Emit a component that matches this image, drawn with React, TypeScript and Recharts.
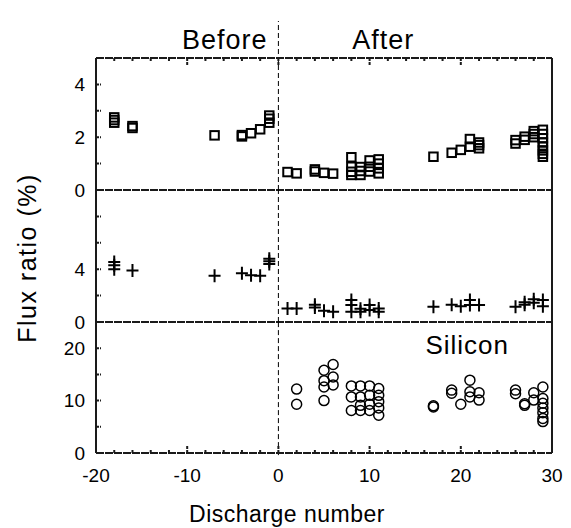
import React from "react";
import { ScatterChart, Scatter, XAxis, YAxis, ReferenceLine, ReferenceDot, Label } from "recharts";

const W = 571;
const H = 528;
const PLOT_LEFT = 96;
const PLOT_RIGHT = 552;
const FONT = '"Liberation Sans", Arial, Helvetica, sans-serif';
const INK = "#000";
const RULE = "#1a1a1a";
const RULE_DASH = "8 1";
const TICK_DASH = "3 1";

// shared x axis (discharge number)
const X_DOMAIN = [-20, 30];
const X_TICKS = [-20, -18, -16, -14, -12, -10, -8, -6, -4, -2, 0, 2, 4, 6, 8, 10, 12, 14, 16, 18, 20, 22, 24, 26, 28, 30];
const X_LABELS = [-20, -10, 0, 10, 20, 30];

// top panel: squares
const squares: [number, number][] = [
	[-18, 2.55], [-18, 2.65], [-18, 2.75], [-16, 2.35], [-16, 2.42],
	[-7, 2.07], [-4, 2.03], [-4, 2.08], [-3, 2.15], [-2, 2.3],
	[-1, 2.55], [-1, 2.7], [-1, 2.82],
	[1, 0.68], [2, 0.63], [4, 0.7], [4, 0.78], [5, 0.65], [6, 0.62],
	[8, 1.24], [8, 0.88], [8, 0.69], [8, 0.57],
	[9, 0.87], [9, 0.72], [9, 0.57],
	[10, 1.12], [10, 0.88], [10, 0.7],
	[11, 1.16], [11, 1.0], [11, 0.82], [11, 0.63],
	[17, 1.26], [19, 1.41], [20, 1.52], [21, 1.93], [21, 1.64],
	[22, 1.58], [22, 1.7], [22, 1.8],
	[26, 1.76], [26, 1.89], [27, 1.9], [27, 2.02],
	[28, 2.0], [28, 2.12], [28, 2.23],
	[29, 2.28], [29, 2.12], [29, 1.96], [29, 1.8], [29, 1.65], [29, 1.5], [29, 1.37], [29, 1.26],
];
const SQUARE_DOMAIN = [0, 5];
const SQUARE_TICKS = [0, 1, 2, 3, 4];
const SQUARE_LABELS = [0, 2, 4];

// middle panel: crosses
const crosses: [number, number][] = [
	[-18, 4.0], [-18, 4.3], [-18, 4.55], [-16, 3.9],
	[-7, 3.5], [-4, 3.7], [-3, 3.55], [-2, 3.5],
	[-1, 4.4], [-1, 4.6], [-1, 4.8],
	[1, 1.03], [2, 1.03], [4, 1.1], [4, 1.3], [5, 0.86], [6, 0.78],
	[8, 1.67], [8, 1.29], [8, 0.78], [9, 0.78], [9, 1.0],
	[10, 1.29], [10, 0.9], [11, 1.03], [11, 0.78],
	[17, 1.16], [19, 1.3], [20, 1.2], [21, 1.67], [21, 1.29], [22, 1.29],
	[26, 1.16], [27, 1.49], [27, 1.3], [28, 1.72], [28, 1.45], [29, 1.67], [29, 1.2],
];
const CROSS_DOMAIN = [0, 10];
const CROSS_TICKS = [0, 2, 4, 6, 8];
const CROSS_LABELS = [0, 4];

// bottom panel: circles (silicon)
const circles: [number, number][] = [
	[2, 12.2], [2, 9.3],
	[5, 15.8], [5, 13.8], [5, 12.6], [5, 10.0],
	[6, 16.9], [6, 14.5], [6, 13.0],
	[8, 12.8], [8, 10.7], [8, 8.1],
	[9, 12.8], [9, 10.7], [9, 9.1], [9, 8.1],
	[10, 12.8], [10, 11.0], [10, 9.3], [10, 8.1],
	[11, 12.3], [11, 11.0], [11, 9.8], [11, 8.6], [11, 7.2],
	[17, 9.0], [17, 8.8], [19, 12.0], [19, 11.4], [20, 9.3],
	[21, 13.9], [21, 11.7], [21, 10.7], [22, 11.5], [22, 10.1],
	[26, 12.0], [26, 11.3], [27, 9.1], [27, 9.4], [28, 11.5], [28, 10.1],
	[29, 12.6], [29, 10.4], [29, 9.5], [29, 8.6], [29, 7.7], [29, 6.6], [29, 6.0],
];
const CIRCLE_DOMAIN = [0, 25];
const CIRCLE_TICKS = [0, 5, 10, 15, 20];
const CIRCLE_LABELS = [0, 10, 20];

const squarePoints = squares.map(([x, y]) => ({ x, y }));
const crossPoints = crosses.map(([x, y]) => ({ x, y }));
const circlePoints = circles.map(([x, y]) => ({ x, y }));

const squareShape = (p: any) => (
	<rect x={p.cx - 4.25} y={p.cy - 4.25} width={8.5} height={8.5} fill="none" stroke={INK} strokeWidth={2} />
);
const crossShape = (p: any) => (
	<path d={`M${p.cx - 6},${p.cy}H${p.cx + 6}M${p.cx},${p.cy - 6.5}V${p.cy + 6.5}`} stroke={INK} strokeWidth={2} fill="none" />
);
const circleShape = (p: any) => <circle cx={p.cx} cy={p.cy} r={5} fill="none" stroke={INK} strokeWidth={1.5} />;

const mark = (d: string) => <path d={d} stroke={RULE} strokeWidth={2} strokeDasharray={TICK_DASH} fill="none" />;

// ticks point inward; labels only on some of them
const makeLeftTick = (labels: number[]) => (p: any) => (
	<g>
		{mark(`M${p.x + 11},${p.y}h5`)}
		{labels.includes(p.payload.value) && (
			<text x={p.x} y={p.y} dy="0.36em" textAnchor="end" fontSize={19} fontFamily={FONT} fill={INK}>
				{p.payload.value}
			</text>
		)}
	</g>
);
const squareTick = makeLeftTick(SQUARE_LABELS);
const crossTick = makeLeftTick(CROSS_LABELS);
const circleTick = makeLeftTick(CIRCLE_LABELS);
const rightTick = (p: any) => mark(`M${p.x},${p.y}h-5`);
const topTick = (p: any) => mark(`M${p.x},${p.y}v${X_LABELS.includes(p.payload.value) ? 7 : 4}`);
const bottomTick = (p: any) => {
	const v = p.payload.value;
	const major = X_LABELS.includes(v);
	return (
		<g>
			{mark(`M${p.x},${p.y}v${major ? -7 : -4}`)}
			{major && (
				<text x={p.x} y={p.y + 29} textAnchor="middle" fontSize={19} fontFamily={FONT} fill={INK}>
					{v}
				</text>
			)}
		</g>
	);
};

const note = (text: string, anchor: string, size: number) => (p: any) => (
	<text x={p.viewBox.x} y={p.viewBox.y} dominantBaseline="central" textAnchor={anchor} fontSize={size} fontFamily={FONT} letterSpacing={1} fill={INK}>
		{text}
	</text>
);
const beforeNote = { content: note("Before", "end", 27) };
const afterNote = { content: note("After", "start", 27) };
const siliconNote = { content: note("Silicon", "middle", 26) };

const yTitle = (p: any) => {
	const x = p.viewBox.x + 27;
	const y = p.viewBox.y + p.viewBox.height / 2 + 2;
	return (
		<text x={x} y={y} transform={`rotate(-90 ${x} ${y})`} textAnchor="middle" dominantBaseline="central" fontSize={25} fontFamily={FONT} letterSpacing={1.5} fill={INK}>
			Flux ratio (%)
		</text>
	);
};
const xTitle = (p: any) => (
	<text x={p.viewBox.x + p.viewBox.width / 2 - 37} y={522} textAnchor="middle" fontSize={23} fontFamily={FONT} letterSpacing={0.5} fill={INK}>
		Discharge number
	</text>
);

const AXIS_LINE = { stroke: RULE, strokeWidth: 2, strokeDasharray: RULE_DASH };

interface PanelProps {
	top: number;
	bottom: number;
	domain: number[];
	ticks: number[];
	tick: (p: any) => React.ReactElement;
	data: { x: number; y: number }[];
	shape: (p: any) => React.ReactElement;
	xAxis: "top" | "none" | "bottom";
	vSegment: number[];
	children?: React.ReactNode;
}

function Panel({ top, bottom, domain, ticks, tick, data, shape, xAxis, vSegment, children }: PanelProps) {
	const margin = {
		top: xAxis === "top" ? top - 1 : top,
		right: W - PLOT_RIGHT - 1,
		bottom: xAxis === "bottom" ? H - bottom - 40 : H - bottom,
		left: 0,
	};
	const [yMin, yMax] = domain;
	const [xMin, xMax] = X_DOMAIN;
	return (
		<div style={{ position: "absolute", left: 0, top: 0 }}>
			<ScatterChart width={W} height={H} margin={margin}>
				{xAxis === "top" && (
					<XAxis dataKey="x" type="number" orientation="top" domain={X_DOMAIN} ticks={X_TICKS} interval={0} height={1} tickSize={0} tickMargin={0} tickLine={false} axisLine={AXIS_LINE} tick={topTick} />
				)}
				{xAxis === "none" && <XAxis dataKey="x" type="number" domain={X_DOMAIN} hide />}
				{xAxis === "bottom" && (
					<XAxis dataKey="x" type="number" domain={X_DOMAIN} ticks={X_TICKS} interval={0} height={40} tickSize={0} tickMargin={0} tickLine={false} axisLine={AXIS_LINE} tick={bottomTick}>
						<Label content={xTitle} />
					</XAxis>
				)}
				<YAxis yAxisId="l" dataKey="y" type="number" domain={domain} ticks={ticks} interval={0} width={PLOT_LEFT} tickSize={0} tickMargin={11} tickLine={false} axisLine={AXIS_LINE} tick={tick}>
					{xAxis === "none" && <Label content={yTitle} />}
				</YAxis>
				<YAxis yAxisId="r" orientation="right" dataKey="y" type="number" domain={domain} ticks={ticks} interval={0} width={1} tickSize={0} tickMargin={0} tickLine={false} axisLine={AXIS_LINE} tick={rightTick} />
				{/* frame, drawn again through the scales */}
				<ReferenceLine yAxisId="l" ifOverflow="visible" stroke={RULE} strokeWidth={2} strokeDasharray={RULE_DASH} segment={[{ x: xMin, y: yMin }, { x: xMin, y: yMax }]} />
				<ReferenceLine yAxisId="l" ifOverflow="visible" stroke={RULE} strokeWidth={2} strokeDasharray={RULE_DASH} segment={[{ x: xMax, y: yMin }, { x: xMax, y: yMax }]} />
				{xAxis === "top" && (
					<ReferenceLine yAxisId="l" ifOverflow="visible" stroke={RULE} strokeWidth={2} strokeDasharray={RULE_DASH} segment={[{ x: xMin, y: yMax }, { x: xMax, y: yMax }]} />
				)}
				<ReferenceLine yAxisId="l" ifOverflow="visible" stroke={RULE} strokeWidth={2} strokeDasharray={RULE_DASH} segment={[{ x: xMin, y: yMin }, { x: xMax, y: yMin }]} />
				<ReferenceLine yAxisId="l" ifOverflow="visible" stroke={INK} strokeWidth={1} strokeDasharray="5 3" segment={[{ x: 0, y: vSegment[0] }, { x: 0, y: vSegment[1] }]} />
				<Scatter yAxisId="l" data={data} shape={shape} isAnimationActive={false} />
				{children}
			</ScatterChart>
		</div>
	);
}

export default function App() {
	return (
		<div style={{ position: "absolute", left: 0, top: 0, width: W, height: H, background: "#fff", fontFamily: FONT }}>
			<Panel top={58} bottom={190} domain={SQUARE_DOMAIN} ticks={SQUARE_TICKS} tick={squareTick} data={squarePoints} shape={squareShape} xAxis="top" vSegment={[0, 6.4]}>
				<ReferenceDot yAxisId="l" x={-1.2} y={5.68} r={0} ifOverflow="visible" label={beforeNote} />
				<ReferenceDot yAxisId="l" x={8.1} y={5.68} r={0} ifOverflow="visible" label={afterNote} />
			</Panel>
			<Panel top={190} bottom={322} domain={CROSS_DOMAIN} ticks={CROSS_TICKS} tick={crossTick} data={crossPoints} shape={crossShape} xAxis="none" vSegment={[0, 10]} />
			<Panel top={322} bottom={453} domain={CIRCLE_DOMAIN} ticks={CIRCLE_TICKS} tick={circleTick} data={circlePoints} shape={circleShape} xAxis="bottom" vSegment={[-0.4, 25]}>
				<ReferenceDot yAxisId="l" x={20.7} y={20.6} r={0} ifOverflow="visible" label={siliconNote} />
			</Panel>
		</div>
	);
}
